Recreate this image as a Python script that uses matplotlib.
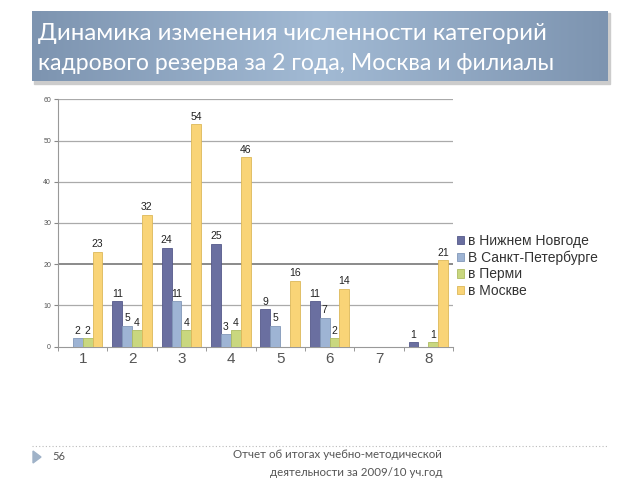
import numpy as np
import matplotlib
matplotlib.use("Agg")
import matplotlib.pyplot as plt
from matplotlib.patches import Rectangle, Polygon

categories = ["1", "2", "3", "4", "5", "6", "7", "8"]
series_names = ["в Нижнем Новгоде", "В Санкт-Петербурге", "в Перми", "в Москве"]
nn = [0, 11, 24, 25, 9, 11, 0, 1]
spb = [2, 5, 11, 3, 5, 7, 0, 0]
perm = [2, 4, 4, 4, 0, 2, 0, 1]
msk = [23, 32, 54, 46, 16, 14, 0, 21]
colors = ["#6a6fa0", "#9eb4d4", "#c9d77f", "#f9d477"]
edges = ["#55598a", "#8298b8", "#aebc62", "#dcb85a"]
title_lines = ["Динамика изменения численности категорий",
               "кадрового резерва за 2 года, Москва и филиалы"]
footer_lines = ["Отчет об итогах учебно-методической", "деятельности за 2009/10 уч.год"]
page_no = "56"

fig = plt.figure(figsize=(6.4, 4.8), dpi=100)

# Title banner with gradient
bax = fig.add_axes([0, 0, 1, 1], zorder=0)
bax.set_xlim(0, 640); bax.set_ylim(480, 0); bax.axis("off")
bax.add_patch(Rectangle((34, 13), 576, 71, color="#cccccc", zorder=0))
grad = np.linspace(0, 1, 256)
prof = 1 - np.abs(grad - 0.5) * 2
c1 = np.array([0x7d, 0x94, 0xb0]) / 255
c2 = np.array([0xa2, 0xba, 0xd4]) / 255
img = c1[None, :] + (c2 - c1)[None, :] * prof[:, None]
img = np.repeat(img[None, :, :], 2, axis=0)
bax.imshow(img, extent=(32, 608, 81, 11), aspect="auto", zorder=1)
bax.text(38, 33, title_lines[0], fontsize=17.3,
         family="Lato", color="white", va="center", ha="left", zorder=2)
bax.text(38, 64, title_lines[1], fontsize=16.6,
         family="Lato", color="white", va="center", ha="left", zorder=2)

# footer
bax.plot([32, 608], [446, 446], ls=(0, (1, 2)), color="#bbbbbb", lw=0.8)
bax.add_patch(Polygon([[33, 451], [33, 463], [41, 457]], color="#9fb2c8"))
bax.text(52, 457, page_no, fontsize=8, color="#555555", family="Lato", va="center")
bax.text(442, 455, footer_lines[0], fontsize=8.3, color="#555555",
         family="Lato", va="center", ha="right")
bax.text(442, 472, footer_lines[1], fontsize=8.3, color="#555555",
         family="Lato", va="center", ha="right")

ax = fig.add_axes([58 / 640, 1 - 346.5 / 480, (453 - 58) / 640, (346.5 - 99.3) / 480], zorder=1)
ax.patch.set_alpha(0)
x = np.arange(1, len(categories) + 1)
w = 0.2
data = [nn, spb, perm, msk]
for i, (vals, c, e, name) in enumerate(zip(data, colors, edges, series_names)):
    pos = x - 0.4 + w * i + w / 2
    ax.bar(pos, vals, width=w, color=c, edgecolor=e, linewidth=0.6, label=name, zorder=3)
    for p, v in zip(pos, vals):
        if v > 0:
            ax.text(p, v + 0.6, str(v), ha="center", va="bottom", fontsize=7.5,
                    family="Liberation Sans", color="#222222", zorder=4)

ax.set_xlim(0.5, 8.5)
ax.set_ylim(0, 60)
ax.set_yticks(range(0, 61, 10))
ax.set_yticklabels([str(v) for v in range(0, 61, 10)], fontsize=5,
                   family="Liberation Sans", color="#555555")
ax.set_xticks(x)
ax.set_xticklabels(categories, fontsize=11, family="Liberation Sans", color="#555555")
ax.tick_params(axis="x", length=0, pad=4)
ax.set_xticks(np.arange(0.5, 9.0, 1), minor=True)
ax.tick_params(axis="x", which="minor", length=3, color="#888888", direction="out")
ax.tick_params(axis="y", length=3, color="#888888", pad=2)
for y in range(10, 61, 10):
    ax.axhline(y, color="#777777" if y == 20 else "#aaaaaa", lw=1.2 if y == 20 else 0.9, zorder=1)
for s in ["top", "right"]:
    ax.spines[s].set_visible(False)
ax.spines["left"].set_color("#999999")
ax.spines["bottom"].set_color("#999999")

leg = ax.legend(loc="upper left", bbox_to_anchor=(0.995, 0.478), frameon=False,
                prop={"family": "Liberation Sans", "size": 10}, handlelength=0.55,
                handleheight=0.55, handletextpad=0.3, labelspacing=0.18, borderaxespad=0)
for t in leg.get_texts():
    t.set_color("#333333")

fig.savefig("out.png", dpi=100)
